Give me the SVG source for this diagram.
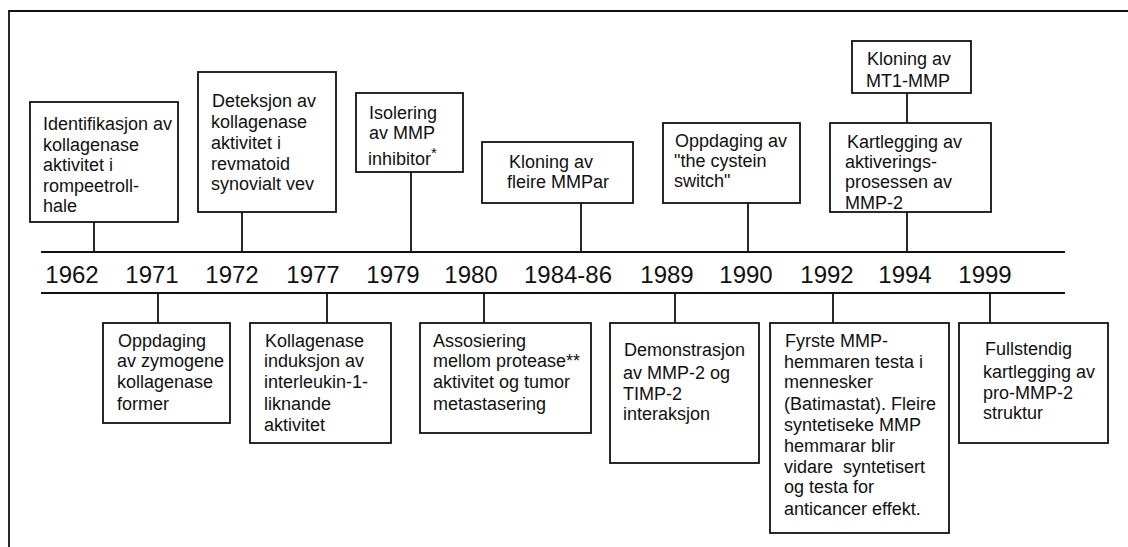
<svg xmlns="http://www.w3.org/2000/svg" width="1128" height="547" viewBox="0 0 1128 547">
<style>
.bg{fill:#fff}
.box{fill:#fff;stroke:#111;stroke-width:1.8}
.ln{stroke:#111;stroke-width:1.8;fill:none}
.t{font-family:"Liberation Sans",Arial,sans-serif;font-size:18px;fill:#111;white-space:pre}
.yr{font-family:"Liberation Sans",Arial,sans-serif;font-size:24px;fill:#111;text-anchor:middle}
</style>
<rect class="bg" x="0" y="0" width="1128" height="547"/>
<g id="frame">
<path class="ln" d="M9,547 V11 H1128"/>
</g>
<g id="connectors">
<line class="ln" x1="41" y1="252" x2="1065" y2="252"/>
<line class="ln" x1="41" y1="293" x2="1065" y2="293"/>
<line class="ln" x1="94" y1="222" x2="94" y2="252"/>
<line class="ln" x1="242" y1="212" x2="242" y2="252"/>
<line class="ln" x1="411" y1="172" x2="411" y2="252"/>
<line class="ln" x1="581" y1="203" x2="581" y2="252"/>
<line class="ln" x1="748" y1="203" x2="748" y2="252"/>
<line class="ln" x1="907" y1="93" x2="907" y2="123"/>
<line class="ln" x1="907" y1="212" x2="907" y2="252"/>
<line class="ln" x1="158" y1="293" x2="158" y2="323"/>
<line class="ln" x1="327" y1="293" x2="327" y2="323"/>
<line class="ln" x1="484" y1="293" x2="484" y2="323"/>
<line class="ln" x1="675" y1="293" x2="675" y2="323"/>
<line class="ln" x1="833" y1="293" x2="833" y2="323"/>
<line class="ln" x1="990" y1="293" x2="990" y2="323"/>
</g>
<g id="years">
<text class="yr" x="72" y="283">1962</text>
<text class="yr" x="152" y="283">1971</text>
<text class="yr" x="232" y="283">1972</text>
<text class="yr" x="313" y="283">1977</text>
<text class="yr" x="393" y="283">1979</text>
<text class="yr" x="471" y="283">1980</text>
<text class="yr" x="568" y="283">1984-86</text>
<text class="yr" x="667" y="283">1989</text>
<text class="yr" x="746" y="283">1990</text>
<text class="yr" x="827" y="283">1992</text>
<text class="yr" x="905" y="283">1994</text>
<text class="yr" x="985" y="283">1999</text>
</g>
<g id="n1962">
<rect class="box" x="30" y="102" width="148" height="120"/>
<text class="t" x="43" y="130">Identifikasjon av</text>
<text class="t" x="43" y="151">kollagenase</text>
<text class="t" x="43" y="171">aktivitet i</text>
<text class="t" x="43" y="192">rompeetroll-</text>
<text class="t" x="43" y="212">hale</text>
</g>
<g id="n1972">
<rect class="box" x="198" y="72" width="138" height="140"/>
<text class="t" x="212" y="107">Deteksjon av</text>
<text class="t" x="211" y="128">kollagenase</text>
<text class="t" x="211" y="149">aktivitet i</text>
<text class="t" x="211" y="170">revmatoid</text>
<text class="t" x="211" y="190">synovialt vev</text>
</g>
<g id="n1979">
<rect class="box" x="356" y="93" width="107" height="79"/>
<text class="t" x="369" y="119">Isolering</text>
<text class="t" x="369" y="139">av MMP</text>
<text class="t" x="368" y="165">inhibitor<tspan font-size="15" dy="-7">*</tspan></text>
</g>
<g id="n1984">
<rect class="box" x="482" y="142" width="151" height="61"/>
<text class="t" x="509" y="168">Kloning av</text>
<text class="t" x="507" y="188">fleire MMPar</text>
</g>
<g id="n1990">
<rect class="box" x="663" y="123" width="137" height="80"/>
<text class="t" x="675" y="147">Oppdaging av</text>
<text class="t" x="674" y="167">"the cystein</text>
<text class="t" x="674" y="187">switch"</text>
</g>
<g id="n1994a">
<rect class="box" x="852" y="41" width="119" height="52"/>
<text class="t" x="867" y="65">Kloning av</text>
<text class="t" x="866" y="87">MT1-MMP</text>
</g>
<g id="n1994b">
<rect class="box" x="830" y="123" width="161" height="89"/>
<text class="t" x="847" y="148">Kartlegging av</text>
<text class="t" x="845" y="168">aktiverings-</text>
<text class="t" x="845" y="188">prosessen av</text>
<text class="t" x="845" y="209">MMP-2</text>
</g>
<g id="n1971">
<rect class="box" x="103" y="323" width="127" height="100"/>
<text class="t" x="118" y="347">Oppdaging</text>
<text class="t" x="117" y="367">av zymogene</text>
<text class="t" x="117" y="388">kollagenase</text>
<text class="t" x="117" y="410">former</text>
</g>
<g id="n1977">
<rect class="box" x="250" y="323" width="141" height="120"/>
<text class="t" x="265" y="347">Kollagenase</text>
<text class="t" x="264" y="367">induksjon av</text>
<text class="t" x="264" y="388">interleukin-1-</text>
<text class="t" x="264" y="410">liknande</text>
<text class="t" x="264" y="431">aktivitet</text>
</g>
<g id="n1980">
<rect class="box" x="420" y="323" width="171" height="110"/>
<text class="t" x="433" y="347">Assosiering</text>
<text class="t" x="433" y="367">mellom protease**</text>
<text class="t" x="433" y="388">aktivitet og tumor</text>
<text class="t" x="433" y="410">metastasering</text>
</g>
<g id="n1989">
<rect class="box" x="610" y="323" width="149" height="140"/>
<text class="t" x="624" y="356">Demonstrasjon</text>
<text class="t" x="623" y="379">av MMP-2 og</text>
<text class="t" x="623" y="400">TIMP-2</text>
<text class="t" x="623" y="420">interaksjon</text>
</g>
<g id="n1992">
<rect class="box" x="770" y="323" width="179" height="210"/>
<text class="t" x="785" y="347">Fyrste MMP-</text>
<text class="t" x="784" y="368">hemmaren testa i</text>
<text class="t" x="784" y="388">mennesker</text>
<text class="t" x="784" y="410">(Batimastat). Fleire</text>
<text class="t" x="784" y="431">syntetiseke MMP</text>
<text class="t" x="784" y="452">hemmarar blir</text>
<text class="t" x="784" y="473">vidare  syntetisert</text>
<text class="t" x="784" y="493">og testa for</text>
<text class="t" x="784" y="515">anticancer effekt.</text>
</g>
<g id="n1999">
<rect class="box" x="959" y="323" width="149" height="120"/>
<text class="t" x="985" y="355">Fullstendig</text>
<text class="t" x="983" y="378">kartlegging av</text>
<text class="t" x="983" y="399">pro-MMP-2</text>
<text class="t" x="983" y="419">struktur</text>
</g>
</svg>
